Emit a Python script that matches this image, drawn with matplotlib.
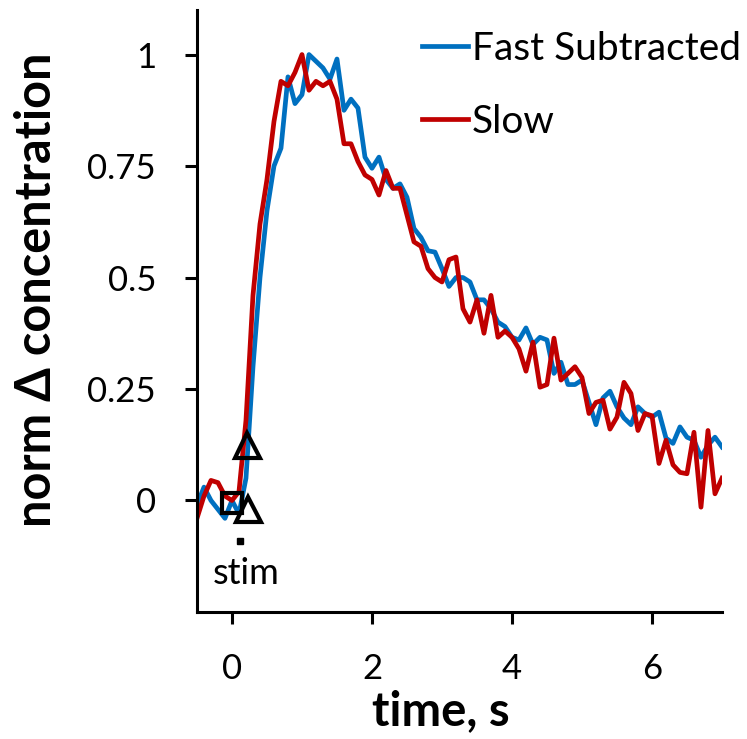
import matplotlib
matplotlib.use("Agg")
import matplotlib.pyplot as plt
import numpy as np

plt.rcParams['font.family'] = ['Lato', 'DejaVu Sans']

# time axis, s
time = np.round(np.arange(-0.5, 7.01, 0.1), 2)

# normalised change in concentration
fast_subtracted = [
    -0.01, 0.03, 0.0, -0.02, -0.04, 0.0, -0.03, 0.05, 0.30, 0.50,
    0.65, 0.75, 0.79, 0.95, 0.89, 0.91, 1.0, 0.985, 0.97, 0.945,
    0.99, 0.875, 0.90, 0.88, 0.77, 0.745, 0.77, 0.72, 0.70, 0.71,
    0.68, 0.61, 0.59, 0.56, 0.557, 0.52, 0.48, 0.50, 0.50, 0.49,
    0.45, 0.45, 0.43, 0.40, 0.39, 0.366, 0.36, 0.387, 0.35, 0.366,
    0.36, 0.285, 0.31, 0.26, 0.26, 0.27, 0.22, 0.17, 0.23, 0.245,
    0.21, 0.185, 0.17, 0.21, 0.195, 0.187, 0.198, 0.14, 0.128, 0.165,
    0.142, 0.135, 0.097, 0.124, 0.142, 0.12,
]
slow = [
    -0.04, 0.01, 0.045, 0.04, 0.01, 0.0, 0.02, 0.18, 0.46, 0.62,
    0.72, 0.85, 0.94, 0.93, 0.96, 1.0, 0.92, 0.94, 0.93, 0.94,
    0.90, 0.80, 0.80, 0.76, 0.73, 0.72, 0.685, 0.74, 0.70, 0.70,
    0.64, 0.58, 0.57, 0.52, 0.50, 0.49, 0.54, 0.546, 0.43, 0.40,
    0.45, 0.375, 0.46, 0.366, 0.38, 0.366, 0.34, 0.29, 0.355, 0.254,
    0.26, 0.364, 0.27, 0.285, 0.30, 0.276, 0.195, 0.22, 0.225, 0.16,
    0.187, 0.265, 0.24, 0.157, 0.195, 0.19, 0.083, 0.135, 0.08, 0.063,
    0.06, 0.153, -0.015, 0.157, 0.015, 0.05,
]

# annotation markers
square_xy = (0.0, -0.005)
triangle_x = [0.21, 0.23]
triangle_y = [0.125, -0.02]
stim_xy = (0.11, -0.09)

fig = plt.figure(figsize=(7.47, 7.39), dpi=100)
ax = fig.add_axes([0.2637, 0.1719, 0.7028, 0.8146])

ax.plot(time, fast_subtracted, color='#0070C0', lw=3.4, label='Fast Subtracted')
ax.plot(time, slow, color='#C00000', lw=3.4, label='Slow')

ax.plot(*square_xy, 's', ms=14, mfc='none', mec='black', mew=3)
ax.plot(triangle_x, triangle_y, '^', ms=18, mfc='none', mec='black', mew=3, ls='none')
ax.plot(*stim_xy, 's', ms=5, color='black')
ax.text(0.2, -0.163, 'stim', ha='center', va='center', fontsize=26)

ax.set_xlim(-0.5, 7)
ax.set_ylim(-0.25, 1.1)
ax.set_xticks([0, 2, 4, 6])
ax.set_yticks([0, 0.25, 0.5, 0.75, 1])
ax.set_yticklabels(['0', '0.25', '0.5', '0.75', '1'])
ax.tick_params(labelsize=25, width=2.2, length=8.5, pad=21)

for side in ['top', 'right']:
    ax.spines[side].set_visible(False)
for side in ['left', 'bottom']:
    ax.spines[side].set_linewidth(2.2)

ax.set_xlabel('time, s', fontsize=34, fontweight='bold')
ax.set_ylabel('norm Δ concentration', fontsize=35, fontweight='bold')
ax.xaxis.set_label_coords(0.465, -0.128)
ax.yaxis.set_label_coords(-0.262, 0.535)

ax.legend(loc='upper left', bbox_to_anchor=(0.4286, 0.965), frameon=False, fontsize=28,
          handlelength=1.18, handletextpad=0.1, labelspacing=0.95,
          borderpad=0, borderaxespad=0)

fig.savefig('out.png')
plt.close(fig)
